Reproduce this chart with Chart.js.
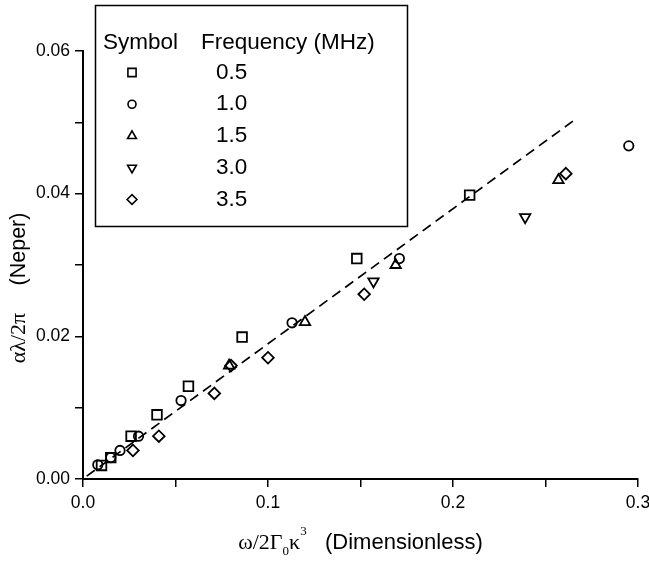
<!DOCTYPE html>
<html>
<head>
<meta charset="UTF-8">
<title>alpha lambda / 2 pi vs omega / 2 Gamma0 kappa^3</title>
<style type="text/css">
body { margin: 0; background: #fff; }
#wrap { width: 649px; height: 561px; position: relative; }
</style>
<script src="https://cdn.jsdelivr.net/npm/chart.js@4.4.0/dist/chart.umd.min.js"></script>
</head>
<body>
<div id="wrap"><canvas id="myChart"></canvas></div>
<script>
// frequencies (MHz) for legend
var freqLabels = ['0.5', '1.0', '1.5', '3.0', '3.5'];

// 0.5 MHz (squares)
var sqX = [0.010, 0.015, 0.026, 0.040, 0.057, 0.086, 0.148, 0.209];
var sqY = [0.0019, 0.0030, 0.0060, 0.0090, 0.0130, 0.0199, 0.0309, 0.0398];
// 1.0 MHz (circles)
var ciX = [0.008, 0.015, 0.020, 0.030, 0.053, 0.113, 0.171, 0.295];
var ciY = [0.0020, 0.0030, 0.0040, 0.0060, 0.0110, 0.0219, 0.0309, 0.0467];
// 1.5 MHz (triangles up)
var tuX = [0.079, 0.120, 0.169, 0.257];
var tuY = [0.0159, 0.0220, 0.0300, 0.0419];
// 3.0 MHz (triangles down)
var tdX = [0.157, 0.239];
var tdY = [0.0277, 0.0367];
// 3.5 MHz (diamonds)
var diX = [0.027, 0.041, 0.071, 0.080, 0.100, 0.152, 0.261];
var diY = [0.0040, 0.0060, 0.0120, 0.0159, 0.0170, 0.0259, 0.0428];
// dashed fit line
var fitX = [0.002, 0.265];
var fitY = [0.0004, 0.0502];

var xMajor = [0, 0.1, 0.2, 0.3];
var yMajor = [0, 0.02, 0.04, 0.06];

var SANS = '"Liberation Sans", Arial, sans-serif';
var SERIF = '"Liberation Serif", "DejaVu Serif", serif';

function pts(xs, ys) {
	return xs.map(function (x, i) { return { x: x, y: ys[i] }; });
}
function isMajor(v, list) {
	return list.some(function (m) { return Math.abs(m - v) < 1e-9; });
}

var markers = [
	{ style: 'rect', r: 6.8, rot: 0 },
	{ style: 'circle', r: 4.7, rot: 0 },
	{ style: 'triangle', r: 6.0, rot: 0 },
	{ style: 'triangle', r: 6.0, rot: 180 },
	{ style: 'rectRot', r: 5.8, rot: 0 }
];
var series = [pts(sqX, sqY), pts(ciX, ciY), pts(tuX, tuY), pts(tdX, tdY), pts(diX, diY)];

var datasets = series.map(function (d, i) {
	return {
		label: freqLabels[i],
		data: d,
		pointStyle: markers[i].style,
		pointRadius: markers[i].r,
		pointHoverRadius: markers[i].r,
		rotation: markers[i].rot,
		borderColor: '#000',
		backgroundColor: 'rgba(0,0,0,0)',
		pointBorderWidth: 1.8,
		showLine: false
	};
});
datasets.push({
	label: 'fit',
	data: pts(fitX, fitY),
	showLine: true,
	borderColor: '#000',
	borderWidth: 1.7,
	borderDash: [10, 6],
	pointRadius: 0,
	fill: false
});

// legend box + axis titles drawn on the canvas
var extras = {
	id: 'extras',
	afterDraw: function (chart) {
		var ctx = chart.ctx;
		var ca = chart.chartArea;
		ctx.save();
		ctx.strokeStyle = '#000';

		// legend
		ctx.lineWidth = 1.5;
		ctx.strokeRect(95.5, 5.5, 312, 221);
		ctx.fillStyle = '#000';
		ctx.font = '22.5px ' + SANS;
		ctx.textBaseline = 'middle';
		ctx.textAlign = 'left';
		ctx.fillText('Symbol', 103, 43);
		ctx.fillText('Frequency (MHz)', 201, 43);
		for (var i = 0; i < freqLabels.length; i++) {
			var yy = 72.5 + i * 31.75;
			var m = markers[i];
			ctx.fillStyle = 'rgba(0,0,0,0)';
			ctx.lineWidth = 1.6;
			Chart.helpers.drawPoint(ctx, { pointStyle: m.style, radius: m.r * 0.85, rotation: m.rot, borderWidth: 1.6 }, 132, yy);
			ctx.fillStyle = '#000';
			ctx.fillText(freqLabels[i], 216, yy);
		}

		// x title: ω/2Γ0κ3  (Dimensionless)
		var ty = 543;
		var serif = '22px ' + SERIF, small = '13px ' + SERIF, sans = '22px ' + SANS;
		var parts = [
			{ t: '\u03c9/2\u0393', f: serif, dy: 0 },
			{ t: '0', f: small, dy: 9 },
			{ t: '\u03ba', f: serif, dy: 0 },
			{ t: '3', f: small, dy: -11 },
			{ t: '   (Dimensionless)', f: sans, dy: 0 }
		];
		var total = 0;
		parts.forEach(function (p) { ctx.font = p.f; p.w = ctx.measureText(p.t).width; total += p.w; });
		var tx = (ca.left + ca.right) / 2 - total / 2;
		parts.forEach(function (p) {
			ctx.font = p.f;
			ctx.fillText(p.t, tx, ty + p.dy);
			tx += p.w;
		});

		// y title: αλ/2π  (Neper), pieces placed along the axis
		ctx.translate(19, 0);
		ctx.rotate(-Math.PI / 2);
		ctx.textAlign = 'center';
		ctx.font = '22px ' + SERIF;
		ctx.fillText('\u03b1\u03bb/2\u03c0', -338, 0);
		ctx.font = '21.5px ' + SANS;
		ctx.fillText('(Neper)', -249, 0);
		ctx.restore();
	}
};

var ctx = document.getElementById('myChart').getContext('2d');
var chart = new Chart(ctx, {
	type: 'scatter',
	data: { datasets: datasets },
	plugins: [extras],
	options: {
		responsive: true,
		maintainAspectRatio: false,
		animation: false,
		events: [],
		layout: { padding: { top: 51, right: 11, left: 0, bottom: 0 } },
		plugins: { legend: { display: false }, tooltip: { enabled: false } },
		scales: {
			x: {
				type: 'linear',
				min: 0,
				max: 0.3,
				afterFit: function (s) { s.height = 82; s.paddingLeft = 0; s.paddingRight = 0; },
				ticks: {
					stepSize: 0.05,
					autoSkip: false,
					maxRotation: 0,
					padding: 6,
					color: '#000',
					font: { family: SANS, size: 17.5 },
					callback: function (v) { return isMajor(v, xMajor) ? v.toFixed(1) : ''; }
				},
				grid: { display: true, drawOnChartArea: false, drawTicks: true, tickLength: 8, color: '#000', lineWidth: 1.5 },
				border: { display: true, color: '#000', width: 2 }
			},
			y: {
				type: 'linear',
				min: 0,
				max: 0.06,
				afterFit: function (s) { s.width = 83; s.paddingTop = 0; s.paddingBottom = 0; },
				ticks: {
					stepSize: 0.01,
					autoSkip: false,
					padding: 5,
					color: '#000',
					font: { family: SANS, size: 17.5 },
					callback: function (v) { return isMajor(v, yMajor) ? v.toFixed(2) : ''; }
				},
				grid: { display: true, drawOnChartArea: false, drawTicks: true, tickLength: 8, color: '#000', lineWidth: 1.5 },
				border: { display: true, color: '#000', width: 2 }
			}
		}
	}
});
</script>
</body>
</html>
